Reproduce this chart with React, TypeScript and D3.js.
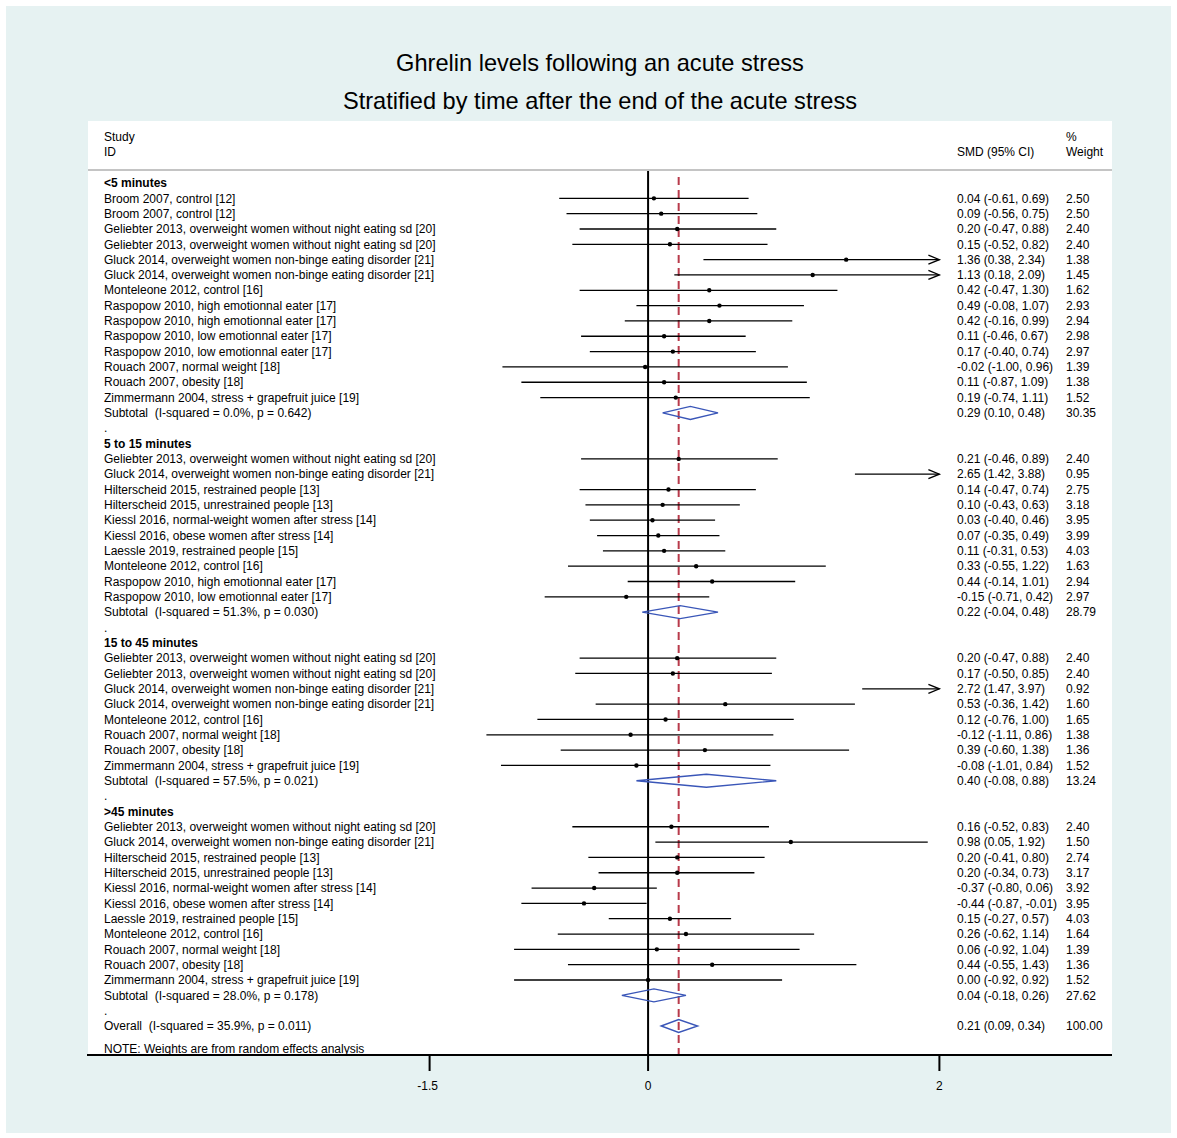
import React from "react";
import * as d3 from "d3";

type Study = { label: string; smd: number; lo: number; hi: number; w: number };
type Sub = { label: string; smd: number; lo: number; hi: number; w: number };

const groupNames = ["<5 minutes", "5 to 15 minutes", "15 to 45 minutes", ">45 minutes"];

const studiesLt5: Study[] = [
  { label: "Broom 2007, control [12]", smd: 0.04, lo: -0.61, hi: 0.69, w: 2.5 },
  { label: "Broom 2007, control [12]", smd: 0.09, lo: -0.56, hi: 0.75, w: 2.5 },
  { label: "Geliebter 2013, overweight women without night eating sd [20]", smd: 0.2, lo: -0.47, hi: 0.88, w: 2.4 },
  { label: "Geliebter 2013, overweight women without night eating sd [20]", smd: 0.15, lo: -0.52, hi: 0.82, w: 2.4 },
  { label: "Gluck 2014, overweight women non-binge eating disorder [21]", smd: 1.36, lo: 0.38, hi: 2.34, w: 1.38 },
  { label: "Gluck 2014, overweight women non-binge eating disorder [21]", smd: 1.13, lo: 0.18, hi: 2.09, w: 1.45 },
  { label: "Monteleone 2012, control [16]", smd: 0.42, lo: -0.47, hi: 1.3, w: 1.62 },
  { label: "Raspopow 2010, high emotionnal eater [17]", smd: 0.49, lo: -0.08, hi: 1.07, w: 2.93 },
  { label: "Raspopow 2010, high emotionnal eater [17]", smd: 0.42, lo: -0.16, hi: 0.99, w: 2.94 },
  { label: "Raspopow 2010, low emotionnal eater [17]", smd: 0.11, lo: -0.46, hi: 0.67, w: 2.98 },
  { label: "Raspopow 2010, low emotionnal eater [17]", smd: 0.17, lo: -0.4, hi: 0.74, w: 2.97 },
  { label: "Rouach 2007, normal weight [18]", smd: -0.02, lo: -1.0, hi: 0.96, w: 1.39 },
  { label: "Rouach 2007, obesity [18]", smd: 0.11, lo: -0.87, hi: 1.09, w: 1.38 },
  { label: "Zimmermann 2004, stress + grapefruit juice [19]", smd: 0.19, lo: -0.74, hi: 1.11, w: 1.52 },
];
const studies5to15: Study[] = [
  { label: "Geliebter 2013, overweight women without night eating sd [20]", smd: 0.21, lo: -0.46, hi: 0.89, w: 2.4 },
  { label: "Gluck 2014, overweight women non-binge eating disorder [21]", smd: 2.65, lo: 1.42, hi: 3.88, w: 0.95 },
  { label: "Hilterscheid 2015, restrained people [13]", smd: 0.14, lo: -0.47, hi: 0.74, w: 2.75 },
  { label: "Hilterscheid 2015, unrestrained people [13]", smd: 0.1, lo: -0.43, hi: 0.63, w: 3.18 },
  { label: "Kiessl 2016, normal-weight women after stress [14]", smd: 0.03, lo: -0.4, hi: 0.46, w: 3.95 },
  { label: "Kiessl 2016, obese women after stress [14]", smd: 0.07, lo: -0.35, hi: 0.49, w: 3.99 },
  { label: "Laessle 2019, restrained people [15]", smd: 0.11, lo: -0.31, hi: 0.53, w: 4.03 },
  { label: "Monteleone 2012, control [16]", smd: 0.33, lo: -0.55, hi: 1.22, w: 1.63 },
  { label: "Raspopow 2010, high emotionnal eater [17]", smd: 0.44, lo: -0.14, hi: 1.01, w: 2.94 },
  { label: "Raspopow 2010, low emotionnal eater [17]", smd: -0.15, lo: -0.71, hi: 0.42, w: 2.97 },
];
const studies15to45: Study[] = [
  { label: "Geliebter 2013, overweight women without night eating sd [20]", smd: 0.2, lo: -0.47, hi: 0.88, w: 2.4 },
  { label: "Geliebter 2013, overweight women without night eating sd [20]", smd: 0.17, lo: -0.5, hi: 0.85, w: 2.4 },
  { label: "Gluck 2014, overweight women non-binge eating disorder [21]", smd: 2.72, lo: 1.47, hi: 3.97, w: 0.92 },
  { label: "Gluck 2014, overweight women non-binge eating disorder [21]", smd: 0.53, lo: -0.36, hi: 1.42, w: 1.6 },
  { label: "Monteleone 2012, control [16]", smd: 0.12, lo: -0.76, hi: 1.0, w: 1.65 },
  { label: "Rouach 2007, normal weight [18]", smd: -0.12, lo: -1.11, hi: 0.86, w: 1.38 },
  { label: "Rouach 2007, obesity [18]", smd: 0.39, lo: -0.6, hi: 1.38, w: 1.36 },
  { label: "Zimmermann 2004, stress + grapefruit juice [19]", smd: -0.08, lo: -1.01, hi: 0.84, w: 1.52 },
];
const studiesGt45: Study[] = [
  { label: "Geliebter 2013, overweight women without night eating sd [20]", smd: 0.16, lo: -0.52, hi: 0.83, w: 2.4 },
  { label: "Gluck 2014, overweight women non-binge eating disorder [21]", smd: 0.98, lo: 0.05, hi: 1.92, w: 1.5 },
  { label: "Hilterscheid 2015, restrained people [13]", smd: 0.2, lo: -0.41, hi: 0.8, w: 2.74 },
  { label: "Hilterscheid 2015, unrestrained people [13]", smd: 0.2, lo: -0.34, hi: 0.73, w: 3.17 },
  { label: "Kiessl 2016, normal-weight women after stress [14]", smd: -0.37, lo: -0.8, hi: 0.06, w: 3.92 },
  { label: "Kiessl 2016, obese women after stress [14]", smd: -0.44, lo: -0.87, hi: -0.01, w: 3.95 },
  { label: "Laessle 2019, restrained people [15]", smd: 0.15, lo: -0.27, hi: 0.57, w: 4.03 },
  { label: "Monteleone 2012, control [16]", smd: 0.26, lo: -0.62, hi: 1.14, w: 1.64 },
  { label: "Rouach 2007, normal weight [18]", smd: 0.06, lo: -0.92, hi: 1.04, w: 1.39 },
  { label: "Rouach 2007, obesity [18]", smd: 0.44, lo: -0.55, hi: 1.43, w: 1.36 },
  { label: "Zimmermann 2004, stress + grapefruit juice [19]", smd: 0.0, lo: -0.92, hi: 0.92, w: 1.52 },
];
const subtotals: Sub[] = [
  { label: "Subtotal  (I-squared = 0.0%, p = 0.642)", smd: 0.29, lo: 0.1, hi: 0.48, w: 30.35 },
  { label: "Subtotal  (I-squared = 51.3%, p = 0.030)", smd: 0.22, lo: -0.04, hi: 0.48, w: 28.79 },
  { label: "Subtotal  (I-squared = 57.5%, p = 0.021)", smd: 0.4, lo: -0.08, hi: 0.88, w: 13.24 },
  { label: "Subtotal  (I-squared = 28.0%, p = 0.178)", smd: 0.04, lo: -0.18, hi: 0.26, w: 27.62 },
];
const overall: Sub = { label: "Overall  (I-squared = 35.9%, p = 0.011)", smd: 0.21, lo: 0.09, hi: 0.34, w: 100.0 };
const groupStudies = [studiesLt5, studies5to15, studies15to45, studiesGt45];
const axisTicks = [-1.5, 0, 2];
const titleLines = ["Ghrelin levels following an acute stress", "Stratified by time after the end of the acute stress"];

type Row =
  | { kind: "header"; text: string }
  | { kind: "study"; s: Study }
  | { kind: "sub"; s: Sub }
  | { kind: "dot" }
  | { kind: "overall"; s: Sub };

const rows: Row[] = [];
groupNames.forEach((g, gi) => {
  rows.push({ kind: "header", text: g });
  groupStudies[gi].forEach((s) => rows.push({ kind: "study", s }));
  rows.push({ kind: "sub", s: subtotals[gi] });
  rows.push({ kind: "dot" });
});
rows.push({ kind: "overall", s: overall });

const W = 1177;
const H = 1138;
const FONT = "'Liberation Sans', Arial, Helvetica, sans-serif";
const loc = d3.formatLocale({ decimal: ".", thousands: ",", grouping: [3], currency: ["", ""], minus: "-" });

export default function App() {
  const plotL = 88, plotR = 1112, plotT = 121, axisY = 1055;
  const x = d3.scaleLinear().domain([-1.5, 2]).range([429.6, 939.4]);
  const y = d3.scaleLinear().domain([0, rows.length - 1]).range([183, 1026]);
  const f2 = loc.format(".2f");
  const ci = (s: Study | Sub) => `${f2(s.smd)} (${f2(s.lo)}, ${f2(s.hi)})`;
  const xMax = 2;
  const xMin = -1.5;
  const txtX = 104, smdX = 957, wX = 1066;
  const fs = 12;
  const pre = { whiteSpace: "pre" as const };

  const diamond = (s: Sub, yy: number) => {
    const h = 6.5;
    return `M${x(s.lo)},${yy} L${x(s.smd)},${yy - h} L${x(s.hi)},${yy} L${x(s.smd)},${yy + h} Z`;
  };

  return (
    <svg width={W} height={H} style={{ position: "absolute", left: 0, top: 0 }} fontFamily={FONT}>
      <rect x={0} y={0} width={W} height={H} fill="#ffffff" />
      <rect x={6} y={6} width={1165} height={1127} fill="#e6f2f2" />
      <rect x={plotL} y={plotT} width={plotR - plotL} height={axisY - plotT} fill="#ffffff" />
      {titleLines.map((t, i) => (
        <text key={i} x={600} y={71 + i * 38} textAnchor="middle" fontSize={23.6} fill="#000">
          {t}
        </text>
      ))}
      <g fontSize={fs} fill="#000">
        <text x={txtX} y={141}>Study</text>
        <text x={txtX} y={156}>ID</text>
        <text x={smdX} y={156}>SMD (95% CI)</text>
        <text x={wX} y={141}>%</text>
        <text x={wX} y={156}>Weight</text>
      </g>
      <line x1={plotL} x2={plotR} y1={170} y2={170} stroke="#c4c4c4" strokeWidth={2} />
      <line x1={x(0)} x2={x(0)} y1={171} y2={axisY} stroke="#000" strokeWidth={2} />
      <line x1={x(overall.smd)} x2={x(overall.smd)} y1={177} y2={axisY} stroke="#b83a4b" strokeWidth={2} strokeDasharray="8,5" />
      {rows.map((r, i) => {
        const yy = y(i);
        const ty = yy + 4.2;
        if (r.kind === "header") {
          return (
            <text key={i} x={txtX} y={ty} fontSize={fs} fontWeight="bold">
              {r.text}
            </text>
          );
        }
        if (r.kind === "dot") {
          return (
            <text key={i} x={txtX} y={ty} fontSize={fs}>
              .
            </text>
          );
        }
        if (r.kind === "study") {
          const s = r.s;
          const lo = Math.max(s.lo, xMin);
          const hi = Math.min(s.hi, xMax);
          const arrow = s.hi > xMax;
          return (
            <g key={i}>
              <text x={txtX} y={ty} fontSize={fs}>{s.label}</text>
              <text x={smdX} y={ty} fontSize={fs}>{ci(s)}</text>
              <text x={wX} y={ty} fontSize={fs}>{f2(s.w)}</text>
              <line x1={x(lo)} x2={x(hi)} y1={yy} y2={yy} stroke="#000" strokeWidth={1.3} />
              {arrow && (
                <path
                  d={`M${x(hi) - 11},${yy - 4.5} L${x(hi)},${yy} L${x(hi) - 11},${yy + 4.5}`}
                  fill="none"
                  stroke="#000"
                  strokeWidth={1.3}
                />
              )}
              {s.smd <= xMax && s.smd >= xMin && <circle cx={x(s.smd)} cy={yy} r={2.2} fill="#000" />}
            </g>
          );
        }
        const s = r.s;
        return (
          <g key={i}>
            <text x={txtX} y={ty} fontSize={fs} style={pre}>{s.label}</text>
            <text x={smdX} y={ty} fontSize={fs}>{ci(s)}</text>
            <text x={wX} y={ty} fontSize={fs}>{f2(s.w)}</text>
            <path d={diamond(s, yy)} fill="none" stroke="#3a56b8" strokeWidth={1.4} />
          </g>
        );
      })}
      <text x={txtX} y={1053} fontSize={fs}>NOTE: Weights are from random effects analysis</text>
      <line x1={plotL - 1} x2={plotR} y1={axisY} y2={axisY} stroke="#000" strokeWidth={2} />
      {axisTicks.map((t) => (
        <g key={t}>
          <line x1={x(t)} x2={x(t)} y1={axisY} y2={axisY + 16} stroke="#000" strokeWidth={2} />
          <text x={x(t) - (t === -1.5 ? 2 : 0)} y={1090} textAnchor="middle" fontSize={fs}>
            {loc.format("")(t)}
          </text>
        </g>
      ))}
    </svg>
  );
}
